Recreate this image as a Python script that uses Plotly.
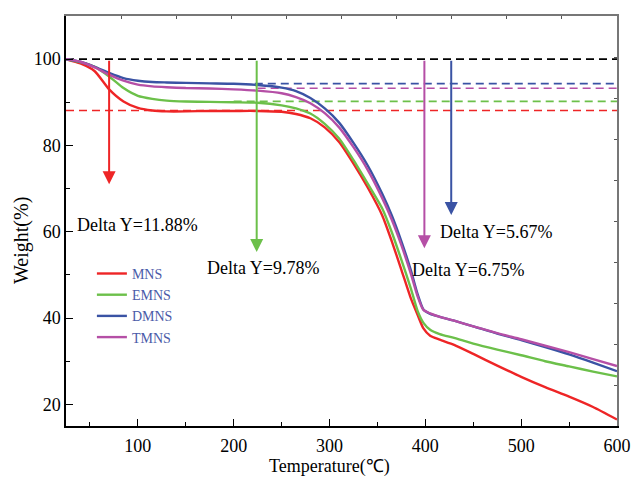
import plotly.graph_objects as go

# Temperature grid (°C)
temp = [25, 40, 55, 70, 85, 100, 115, 130, 150, 175, 200, 225, 250, 265, 280, 295,
        310, 325, 340, 355, 365, 375, 385, 392, 398, 405, 415, 430, 450, 475, 500,
        525, 550, 575, 600]

mns = [100, 99.0, 97.2, 93.0, 90.2, 88.7, 88.1, 87.9, 87.9, 88.0, 88.0, 88.0, 87.8, 87.3,
       86.3, 84.2, 80.8, 75.8, 70.2, 63.8, 57.8, 51.2, 44.5, 40.7, 37.6, 35.9, 35.0,
       33.8, 31.7, 29.0, 26.4, 24.0, 21.8, 19.4, 16.5]
emns = [100, 99.3, 98.2, 96.0, 93.3, 91.5, 90.8, 90.4, 90.2, 90.1, 90.0, 89.9, 89.3, 88.6,
        87.4, 85.0, 81.6, 76.6, 71.1, 65.4, 59.9, 53.5, 46.8, 41.6, 38.9, 37.3, 36.3,
        35.4, 34.1, 32.7, 31.4, 30.0, 28.8, 27.6, 26.5]
dmns = [100, 99.4, 98.2, 96.8, 95.6, 95.0, 94.7, 94.6, 94.5, 94.4, 94.3, 94.0, 93.4, 92.6,
        91.0, 88.6, 85.3, 80.6, 75.3, 68.8, 63.8, 57.8, 51.0, 45.5, 42.0, 41.0, 40.3,
        39.4, 38.1, 36.4, 34.9, 33.3, 31.6, 29.7, 27.7]
tmns = [100, 99.4, 98.1, 96.4, 95.0, 94.1, 93.7, 93.5, 93.3, 93.2, 93.0, 92.7, 92.1, 91.2,
        89.8, 87.5, 84.2, 79.6, 74.3, 67.8, 62.8, 56.9, 50.2, 45.0, 41.9, 41.1, 40.3,
        39.4, 38.1, 36.5, 35.1, 33.6, 32.1, 30.5, 28.9]

names = ["MNS", "EMNS", "DMNS", "TMNS"]
colors = ["#ee2526", "#6cc04a", "#3a53a4", "#b54fa6"]
series = [mns, emns, dmns, tmns]

# Reference (dashed) levels: 100 - Delta Y
delta = [11.88, 9.78, 5.67, 6.75]
ref_start = [25, 200, 222, 225]
arrow_t = [70, 224, 427, 399]
arrow_tip = [71.0, 55.3, 63.9, 56.2]
label_t = [100, 231, 474, 445]
label_w = [61.6, 51.6, 60.0, 51.1]
label_txt = ["Delta Y=11.88%", "Delta Y=9.78%", "Delta Y=5.67%", "Delta Y=6.75%"]

FONT = "Liberation Serif"
fig = go.Figure()

# black 100% line
fig.add_trace(go.Scatter(x=[25, 600], y=[100, 100], mode="lines",
                         line=dict(color="black", width=1.6, dash="8px,5px"),
                         showlegend=False, hoverinfo="skip"))
for i in range(4):
    lvl = 100 - delta[i]
    fig.add_trace(go.Scatter(x=[ref_start[i], 600], y=[lvl, lvl], mode="lines",
                             line=dict(color=colors[i], width=1.6, dash="8px,5px"),
                             showlegend=False, hoverinfo="skip"))

for n, c, s in zip(names, colors, series):
    fig.add_trace(go.Scatter(x=temp, y=s, mode="lines", name=n,
                             line=dict(color=c, width=2.4, shape="spline", smoothing=0.6)))

# invisible trace for the secondary (top/right) frame axes
fig.add_trace(go.Scatter(x=[0], y=[0], xaxis="x2", yaxis="y2", mode="markers",
                         marker=dict(opacity=0), showlegend=False, hoverinfo="skip"))

annotations = []
for i in range(4):
    annotations.append(dict(x=arrow_t[i], y=arrow_tip[i], ax=arrow_t[i], ay=100,
                            xref="x", yref="y", axref="x", ayref="y", text="",
                            showarrow=True, arrowhead=2, arrowsize=1.3, arrowwidth=2,
                            arrowcolor=colors[i], standoff=0, startstandoff=0))
    annotations.append(dict(x=label_t[i], y=label_w[i], xref="x", yref="y",
                            text=label_txt[i], showarrow=False,
                            font=dict(family=FONT, size=18, color="black")))

# axis titles
annotations.append(dict(x=0.479, y=-0.0976, xref="paper", yref="paper",
                        xanchor="center", yanchor="middle",
                        text="Temperature(℃)", showarrow=False,
                        font=dict(family=FONT, size=18, color="black")))
annotations.append(dict(x=-0.0799, y=0.4537, xref="paper", yref="paper",
                        xanchor="center", yanchor="middle",
                        text="Weight(%)", showarrow=False, textangle=-90,
                        font=dict(family=FONT, size=20, color="black")))

fig.update_layout(
    width=634, height=479,
    margin=dict(l=66, r=17, t=16, b=53),
    paper_bgcolor="white", plot_bgcolor="white",
    font=dict(family=FONT, size=18, color="black"),
    annotations=annotations,
    legend=dict(x=0.047, y=0.41, xanchor="left", yanchor="top",
                bgcolor="rgba(0,0,0,0)", font=dict(family=FONT, size=14, color="#4a5aa8"),
                tracegroupgap=0),
    xaxis=dict(range=[25, 600], tickvals=[100, 200, 300, 400, 500, 600],
               ticks="inside", ticklen=7, tickwidth=1.3, tickcolor="black",
               minor=dict(tickvals=[50, 150, 250, 350, 450, 550], ticks="inside",
                          ticklen=4, tickwidth=1.3, tickcolor="black"),
               showline=True, linecolor="black", linewidth=1.5, mirror=False,
               showgrid=False, zeroline=False, automargin=False,
               ticklabelstandoff=3,
               tickfont=dict(family=FONT, size=18)),
    yaxis=dict(range=[15, 110], tickvals=[20, 40, 60, 80, 100],
               ticks="inside", ticklen=7, tickwidth=1.3, tickcolor="black",
               minor=dict(tickvals=[30, 50, 70, 90], ticks="inside",
                          ticklen=4, tickwidth=1.3, tickcolor="black"),
               showline=True, linecolor="black", linewidth=1.5, mirror=False,
               showgrid=False, zeroline=False, automargin=False,
               tickfont=dict(family=FONT, size=18)),
    xaxis2=dict(overlaying="x", side="top", anchor="y2", range=[0, 10],
                tickvals=list(range(11)), ticks="inside", ticklen=3, tickwidth=1.3,
                tickcolor="#555", showticklabels=False, showline=True,
                linecolor="#777", linewidth=1.5, showgrid=False, zeroline=False,
                automargin=False),
    yaxis2=dict(overlaying="y", side="right", anchor="x2", range=[0, 10],
                tickvals=list(range(11)), ticks="inside", ticklen=3, tickwidth=1.3,
                tickcolor="#555", showticklabels=False, showline=True,
                linecolor="#777", linewidth=1.5, showgrid=False, zeroline=False,
                automargin=False),
)

fig.write_html("out.html")
